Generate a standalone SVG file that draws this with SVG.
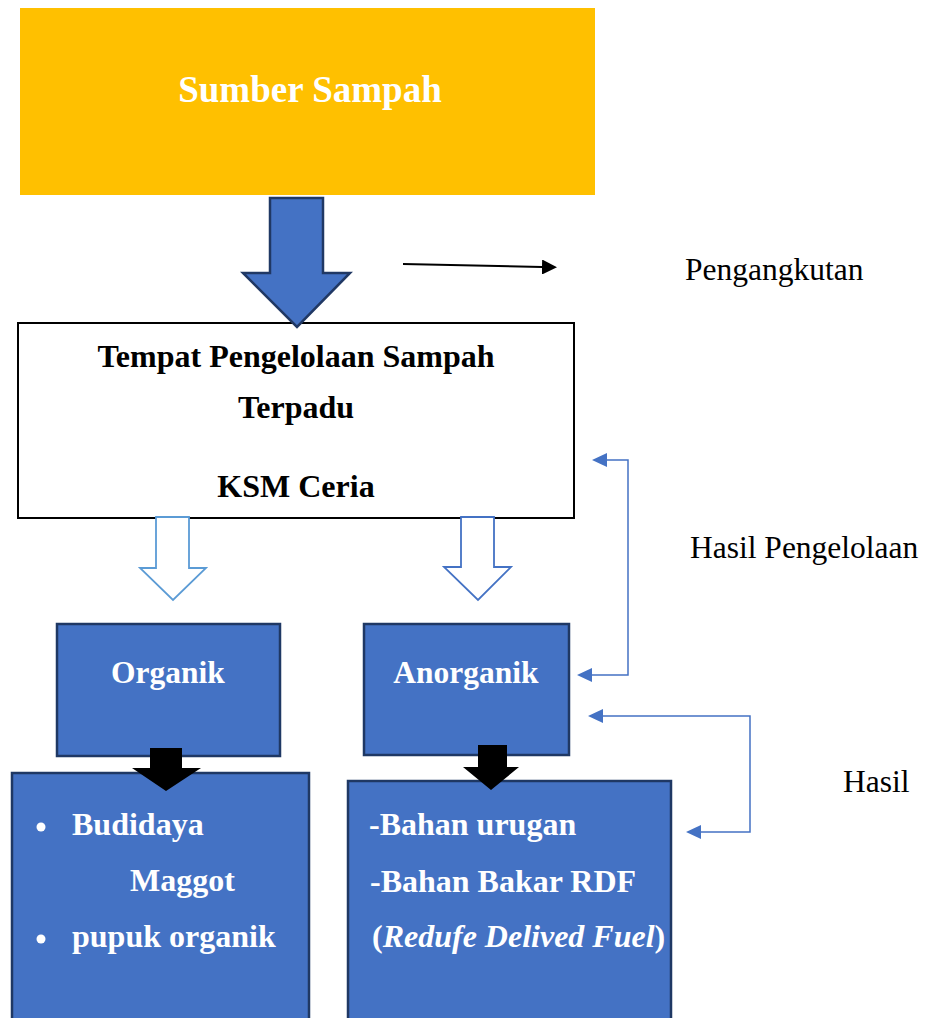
<svg xmlns="http://www.w3.org/2000/svg" width="929" height="1018" viewBox="0 0 929 1018">
<style>
text{font-family:"Liberation Serif","Times New Roman",serif;}
.b{font-weight:bold;}
.w{fill:#FFFFFF;}
.k{fill:#000000;}
.lbl{font-size:31.5px;fill:#000000;}
.blue{fill:#4472C4;stroke:#1F3864;stroke-width:2.5;}
.con{fill:none;stroke:#4472C4;stroke-width:1.5;}
</style>
<defs>
<marker id="ah" markerUnits="userSpaceOnUse" markerWidth="15" markerHeight="14" refX="0" refY="7" orient="auto-start-reverse" viewBox="0 0 15 14">
<path d="M0,0 L15,7 L0,14 z" fill="#4472C4"/>
</marker>
<marker id="ak" markerUnits="userSpaceOnUse" markerWidth="15" markerHeight="15" refX="0" refY="7.5" orient="auto" viewBox="0 0 15 15">
<path d="M0,0 L15,7.5 L0,15 z" fill="#000000"/>
</marker>
</defs>
<rect width="929" height="1018" fill="#FFFFFF"/>

<g id="sumber">
<rect x="20" y="8" width="575" height="187" fill="#FFC000"/>
<text x="310" y="102" text-anchor="middle" class="b w" font-size="37">Sumber Sampah</text>
</g>

<g id="tps">
<rect x="18" y="323" width="556" height="195" fill="#FFFFFF" stroke="#000000" stroke-width="2"/>
<text x="296" y="367" text-anchor="middle" class="b k" font-size="32">Tempat Pengelolaan Sampah</text>
<text x="296" y="418" text-anchor="middle" class="b k" font-size="32">Terpadu</text>
<text x="296" y="497" text-anchor="middle" class="b k" font-size="32">KSM Ceria</text>
</g>

<g id="organik">
<rect x="57" y="624" width="223" height="132" class="blue"/>
<text x="168" y="683" text-anchor="middle" class="b w" font-size="31.5">Organik</text>
</g>

<g id="anorganik">
<rect x="364" y="624" width="205" height="131" class="blue"/>
<text x="466" y="683" text-anchor="middle" class="b w" font-size="31.5">Anorganik</text>
</g>

<g id="hasil-organik">
<rect x="12" y="773" width="297" height="260" class="blue"/>
<circle cx="41" cy="827" r="4.5" fill="#FFFFFF"/>
<text x="72" y="835" class="b w" font-size="32">Budidaya</text>
<text x="130" y="891" class="b w" font-size="32">Maggot</text>
<circle cx="41" cy="939" r="4.5" fill="#FFFFFF"/>
<text x="72" y="947" class="b w" font-size="32">pupuk organik</text>
</g>

<g id="hasil-anorganik">
<rect x="348" y="781" width="323" height="252" class="blue"/>
<text x="369" y="835" class="b w" font-size="32">-Bahan urugan</text>
<text x="370" y="892" class="b w" font-size="32">-Bahan Bakar RDF</text>
<text x="372" y="947" class="b w" font-size="32">(<tspan font-style="italic">Redufe Delived Fuel</tspan>)</text>
</g>

<g id="label-pengangkutan">
<text x="685" y="280" class="lbl">Pengangkutan</text>
</g>
<g id="label-hasil-pengelolaan">
<text x="690" y="558" class="lbl">Hasil Pengelolaan</text>
</g>
<g id="label-hasil">
<text x="843" y="792" class="lbl">Hasil</text>
</g>

<g id="connectors">
<path d="M270,198 H323 V273 H350 L297,327 L243,273 H270 Z" fill="#4472C4" stroke="#203864" stroke-width="2.5" stroke-linejoin="miter"/>
<path d="M156,517 H189 V568 H206 L173,600 L140,568 H156 Z" fill="#FFFFFF" stroke="#5B9BD5" stroke-width="1.8"/>
<path d="M461,517 H494 V567 H511 L478,600 L444,567 H461 Z" fill="#FFFFFF" stroke="#4472C4" stroke-width="1.8"/>
<path d="M150,748 H182 V768 H201 L166,791 L132,768 H150 Z" fill="#000000"/>
<path d="M478,745 H507 V767 H519 L491,790 L463,767 H478 Z" fill="#000000"/>
<path d="M403,264 L542,267" fill="none" stroke="#000000" stroke-width="2" marker-end="url(#ak)"/>
<path d="M607,460 H628 V675 H592" class="con" marker-start="url(#ah)" marker-end="url(#ah)"/>
<path d="M603,716 H750 V832 H701" class="con" marker-start="url(#ah)" marker-end="url(#ah)"/>
</g>
</svg>
